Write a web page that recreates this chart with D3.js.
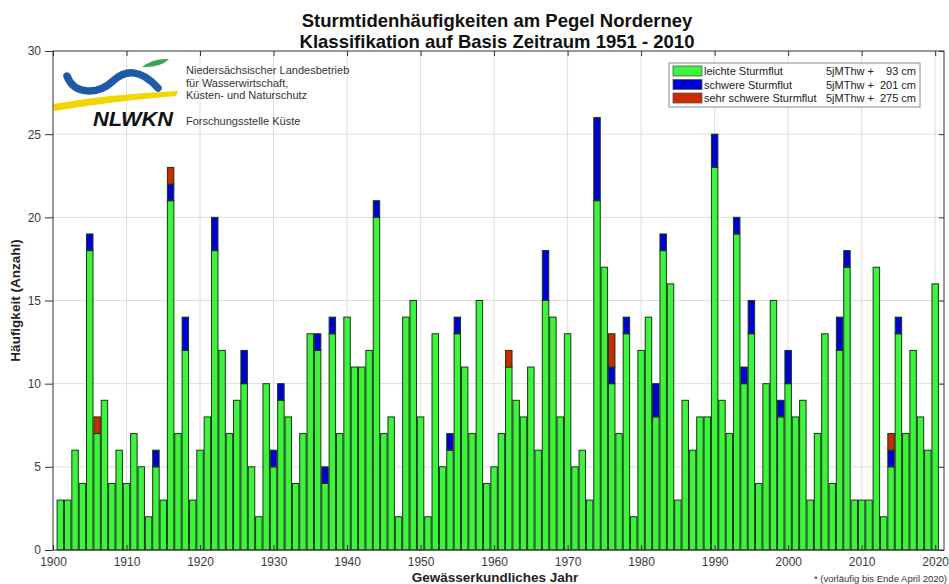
<!DOCTYPE html>
<html>
<head>
<meta charset="utf-8">
<script src="https://cdn.jsdelivr.net/npm/d3@7"></script>
<style>
  body { margin: 0; background: #fff; }
  svg { display: block; font-family: "Liberation Sans", Arial, sans-serif; }
</style>
</head>
<body>
<svg></svg>
<script>
// Anzahl Sturmtiden je Jahr (1901 - 2020), eine Zeile je Jahrzehnt
let years = d3.range(1901, 2021);

let leicht = [
  3, 3, 6, 4, 18, 7, 9, 4, 6, 4,
  7, 5, 2, 5, 3, 21, 7, 12, 3, 6,
  8, 18, 12, 7, 9, 10, 5, 2, 10, 5,
  9, 8, 4, 7, 13, 12, 4, 13, 7, 14,
  11, 11, 12, 20, 7, 8, 2, 14, 15, 8,
  2, 13, 5, 6, 13, 11, 7, 15, 4, 5,
  7, 11, 9, 8, 11, 6, 15, 14, 8, 13,
  5, 6, 3, 21, 17, 10, 7, 13, 2, 12,
  14, 8, 18, 16, 3, 9, 6, 8, 8, 23,
  9, 7, 19, 10, 13, 4, 10, 15, 8, 10,
  8, 9, 3, 7, 13, 4, 12, 17, 3, 3,
  3, 17, 2, 5, 13, 7, 12, 8, 6, 16
];

let schwer = [
  0, 0, 0, 0, 1, 0, 0, 0, 0, 0,
  0, 0, 0, 1, 0, 1, 0, 2, 0, 0,
  0, 2, 0, 0, 0, 2, 0, 0, 0, 1,
  1, 0, 0, 0, 0, 1, 1, 1, 0, 0,
  0, 0, 0, 1, 0, 0, 0, 0, 0, 0,
  0, 0, 0, 1, 1, 0, 0, 0, 0, 0,
  0, 0, 0, 0, 0, 0, 3, 0, 0, 0,
  0, 0, 0, 5, 0, 1, 0, 1, 0, 0,
  0, 2, 1, 0, 0, 0, 0, 0, 0, 2,
  0, 0, 1, 1, 2, 0, 0, 0, 1, 2,
  0, 0, 0, 0, 0, 0, 2, 1, 0, 0,
  0, 0, 0, 1, 1, 0, 0, 0, 0, 0
];

let sehrSchwer = [
  0, 0, 0, 0, 0, 1, 0, 0, 0, 0,
  0, 0, 0, 0, 0, 1, 0, 0, 0, 0,
  0, 0, 0, 0, 0, 0, 0, 0, 0, 0,
  0, 0, 0, 0, 0, 0, 0, 0, 0, 0,
  0, 0, 0, 0, 0, 0, 0, 0, 0, 0,
  0, 0, 0, 0, 0, 0, 0, 0, 0, 0,
  0, 1, 0, 0, 0, 0, 0, 0, 0, 0,
  0, 0, 0, 0, 0, 2, 0, 0, 0, 0,
  0, 0, 0, 0, 0, 0, 0, 0, 0, 0,
  0, 0, 0, 0, 0, 0, 0, 0, 0, 0,
  0, 0, 0, 0, 0, 0, 0, 0, 0, 0,
  0, 0, 0, 1, 0, 0, 0, 0, 0, 0
];

let xTicks = d3.range(1900, 2021, 10);
let yTicks = [0, 5, 10, 15, 20, 25, 30];

let seriesKeys = ["leicht", "schwer", "sehr"];
let seriesColors = ["#3ef23e", "#0000d2", "#cc2a00"];
let legendNames = ["leichte Sturmflut", "schwere Sturmflut", "sehr schwere Sturmflut"];
let legendLevels = ["93 cm", "201 cm", "275 cm"];

let width = 949;
let height = 584;
let plotLeft = 53, plotRight = 944, plotTop = 51, plotBottom = 550;

let svg = d3.select("svg").attr("width", width).attr("height", height);

let xScale = d3.scaleLinear().domain([1900, 2021.2]).range([plotLeft, plotRight]);
let yScale = d3.scaleLinear().domain([0, 30]).range([plotBottom, plotTop]);

let table = years.map((yr, i) => ({
  year: yr,
  leicht: leicht[i],
  schwer: schwer[i],
  sehr: sehrSchwer[i]
}));

function drawGrid() {
  let grid = svg.append("g").attr("stroke", "#dedede").attr("stroke-width", 1);
  grid.selectAll(".gx")
    .data(xTicks.slice(1))
    .enter()
    .append("line")
    .attr("x1", (d) => xScale(d)).attr("x2", (d) => xScale(d))
    .attr("y1", plotTop).attr("y2", plotBottom);
  grid.selectAll(".gy")
    .data(yTicks.slice(1, -1))
    .enter()
    .append("line")
    .attr("x1", plotLeft).attr("x2", plotRight)
    .attr("y1", (d) => yScale(d)).attr("y2", (d) => yScale(d));
}

function drawLogo() {
  let logo = svg.append("g");
  // gelber Strand
  logo.append("path")
    .attr("d", "M53,104 Q110,94 178,91 L176,96 Q115,101 54,111 Z")
    .attr("fill", "#f2d600");
  // blaue Welle
  logo.append("path")
    .attr("d", "M67,76 C74,95 98,95 113,81 C125,70 140,68 158,88")
    .attr("fill", "none")
    .attr("stroke", "#1e5aa6")
    .attr("stroke-width", 7.5)
    .attr("stroke-linecap", "round");
  // gruenes Blatt
  logo.append("path")
    .attr("d", "M142,67 Q153,58 169,59 Q160,68 142,67 Z")
    .attr("fill", "#3aa655");
  logo.append("text")
    .attr("x", 93).attr("y", 126)
    .attr("font-size", 20)
    .attr("font-weight", "bold")
    .attr("font-style", "italic")
    .attr("textLength", 80)
    .attr("lengthAdjust", "spacingAndGlyphs")
    .attr("fill", "#111")
    .text("NLWKN");

  let lines = [
    ["Niedersächsischer Landesbetrieb", 74],
    ["für Wasserwirtschaft,", 86.5],
    ["Küsten- und Naturschutz", 99],
    ["Forschungsstelle Küste", 125]
  ];
  logo.selectAll(".logotext")
    .data(lines)
    .enter()
    .append("text")
    .attr("x", 186)
    .attr("y", (d) => d[1])
    .attr("font-size", 11)
    .attr("fill", "#333")
    .text((d) => d[0]);
}

function drawBars() {
  let stacked = d3.stack().keys(seriesKeys)(table);
  let barWidth = (xScale(1901) - xScale(1900)) * 0.88;

  svg.append("g")
    .selectAll("g")
    .data(stacked)
    .enter()
    .append("g")
    .attr("fill", (d, i) => seriesColors[i])
    .selectAll("rect")
    .data((d) => d.filter((p) => p[1] > p[0]))
    .enter()
    .append("rect")
    .attr("x", (d) => xScale(d.data.year) - barWidth / 2)
    .attr("width", barWidth)
    .attr("y", (d) => yScale(d[1]))
    .attr("height", (d) => yScale(d[0]) - yScale(d[1]))
    .attr("stroke", "#133a13")
    .attr("stroke-width", 1);
}

function drawAxes() {
  let axisColor = "#333";

  // box
  svg.append("rect")
    .attr("x", plotLeft).attr("y", plotTop)
    .attr("width", plotRight - plotLeft).attr("height", plotBottom - plotTop)
    .attr("fill", "none")
    .attr("stroke", axisColor)
    .attr("stroke-width", 1);

  let xAxis = d3.axisBottom(xScale)
    .tickValues(xTicks)
    .tickFormat(d3.format("d"))
    .tickSizeInner(-5)
    .tickSizeOuter(0)
    .tickPadding(7);
  let gx = svg.append("g")
    .attr("transform", `translate(0, ${plotBottom})`)
    .call(xAxis);
  gx.select(".domain").remove();

  let xTop = d3.axisTop(xScale)
    .tickValues(xTicks)
    .tickFormat("")
    .tickSizeInner(-5)
    .tickSizeOuter(0);
  let gxt = svg.append("g")
    .attr("transform", `translate(0, ${plotTop})`)
    .call(xTop);
  gxt.select(".domain").remove();

  let yAxis = d3.axisLeft(yScale)
    .tickValues(yTicks)
    .tickSizeInner(8)
    .tickSizeOuter(0)
    .tickPadding(4);
  let gy = svg.append("g")
    .attr("transform", `translate(${plotLeft}, 0)`)
    .call(yAxis);
  gy.select(".domain").remove();

  let yRight = d3.axisRight(yScale)
    .tickValues(yTicks)
    .tickFormat("")
    .tickSizeInner(-5)
    .tickSizeOuter(0);
  let gyr = svg.append("g")
    .attr("transform", `translate(${plotRight}, 0)`)
    .call(yRight);
  gyr.select(".domain").remove();

  svg.selectAll(".tick line").attr("stroke", axisColor);
  svg.selectAll(".tick text")
    .attr("fill", "#3a3a3a")
    .style("font-size", "12px")
    .style("font-family", "'Liberation Sans', Arial, sans-serif");

  svg.append("text")
    .attr("x", 495)
    .attr("y", 582)
    .attr("text-anchor", "middle")
    .attr("font-size", 13.5)
    .attr("font-weight", "bold")
    .attr("fill", "#222")
    .text("Gewässerkundliches Jahr");

  svg.append("text")
    .attr("transform", `translate(20, ${(plotTop + plotBottom) / 2}) rotate(-90)`)
    .attr("text-anchor", "middle")
    .attr("font-size", 13.5)
    .attr("font-weight", "bold")
    .attr("fill", "#222")
    .text("Häufigkeit (Anzahl)");

  svg.append("text")
    .attr("x", 947)
    .attr("y", 582)
    .attr("text-anchor", "end")
    .attr("font-size", 9.5)
    .attr("fill", "#333")
    .text("* (vorläufig bis Ende April 2020)");
}

function drawTitle() {
  let t = svg.append("text")
    .attr("text-anchor", "middle")
    .attr("font-size", 18.5)
    .attr("font-weight", "bold")
    .attr("fill", "#111");
  t.append("tspan").attr("x", 497).attr("y", 27).text("Sturmtidenhäufigkeiten am Pegel Norderney");
  t.append("tspan").attr("x", 497).attr("y", 48).text("Klassifikation auf Basis Zeitraum 1951 - 2010");
}

function drawLegend() {
  let lg = svg.append("g");
  lg.append("rect")
    .attr("x", 669).attr("y", 63)
    .attr("width", 251).attr("height", 44)
    .attr("fill", "#fff")
    .attr("stroke", "#8a8a8a");

  let rows = lg.selectAll(".row")
    .data(legendNames)
    .enter()
    .append("g")
    .attr("transform", (d, i) => `translate(0, ${71 + i * 13.5})`);

  rows.append("rect")
    .attr("x", 673).attr("y", -5)
    .attr("width", 29).attr("height", 10)
    .attr("fill", (d, i) => seriesColors[i])
    .attr("stroke", "#555")
    .attr("stroke-width", 0.8);
  rows.append("text")
    .attr("x", 704).attr("y", 4)
    .attr("font-size", 11)
    .attr("fill", "#222")
    .text((d) => d);
  rows.append("text")
    .attr("x", 826).attr("y", 4)
    .attr("font-size", 11)
    .attr("fill", "#222")
    .text("5jMThw +");
  rows.append("text")
    .attr("x", 916).attr("y", 4)
    .attr("text-anchor", "end")
    .attr("font-size", 11)
    .attr("fill", "#222")
    .text((d, i) => legendLevels[i]);
}

drawGrid();
drawLogo();
drawBars();
drawAxes();
drawTitle();
drawLegend();
</script>
</body>
</html>
